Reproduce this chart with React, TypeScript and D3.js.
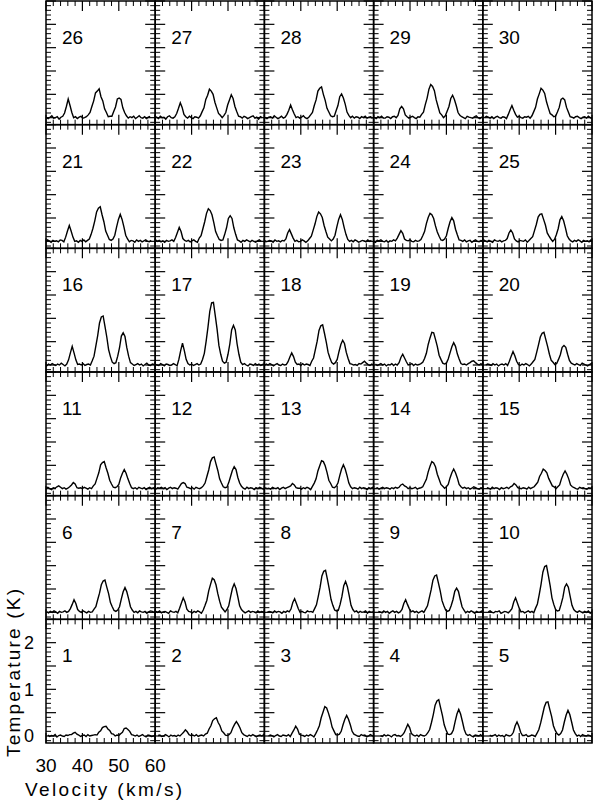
import React from 'react';
import * as d3 from 'd3';

// page / grid geometry
const width = 600;
const height = 802;
const gridLeft = 46;
const gridRight = 592;
const gridTop = 1;
const gridBottom = 743;
const nCols = 5;
const nRows = 6;

// velocity channels (km/s)
const channels = [
  30, 30.5, 31, 31.5, 32, 32.5, 33, 33.5, 34, 34.5, 35, 35.5, 36, 36.5, 37, 37.5,
  38, 38.5, 39, 39.5, 40, 40.5, 41, 41.5, 42, 42.5, 43, 43.5, 44, 44.5, 45, 45.5,
  46, 46.5, 47, 47.5, 48, 48.5, 49, 49.5, 50, 50.5, 51, 51.5, 52, 52.5, 53, 53.5,
  54, 54.5, 55, 55.5, 56, 56.5, 57, 57.5, 58, 58.5, 59, 59.5, 60,
];

// velocity offset of each panel's spectrum (km/s), panels 1..30
const velocityShift = [
  0.5, 0.8, 1.1, 1.9, 1.9,
  0.2, 0.2, 0.8, 1.3, 1.5,
  0.0, 0.2, 0.2, 0.5, 1.1,
  -0.3, 0.0, 0.0, 0.5, 0.8,
  -1.1, -0.9, -0.6, 0.0, 0.2,
  -1.4, -0.6, -0.3, 0.2, 0.5,
];

// spectra for panels 1..30, temperature in units of 0.01 K
const spectra: number[][] = [
  // 1
  [2,-1,1,0,3,-2,1,2,0,-1,2,1,3, 3,6,8,4,2,-1, 1,2,-1,3,0,1,2, 3,2,8,11,18,20,21,15,12,5,4,0,2, 1,5,8,16,17,14,10,3,2, 0,2,-1,1,3,0,-2,2,1,-1,0,2,1],
  // 2
  [1,2,-1,0,3,1,-2,2,0,1,-1,2,0, 4,8,13,9,3,1, 2,0,3,-1,1,2,0, 4,6,15,22,33,37,39,29,22,11,7,2,1, 3,7,17,25,31,25,17,7,3, 1,-1,2,0,3,1,-2,1,2,0,3,-1,1],
  // 3
  [0,2,1,-2,1,3,0,-1,2,1,0,3,-1, 6,13,21,15,4,2, 1,-1,2,0,3,1,-2, 5,13,22,39,51,63,60,49,36,19,11,3,2, 4,10,24,36,44,36,24,10,4, 2,0,-1,3,1,2,-2,0,3,1,-1,2,0],
  // 4
  [1,-1,3,0,2,1,-2,2,3,0,1,-1,2, 7,16,25,18,5,2, 0,2,-1,3,1,0,2, 7,14,29,46,66,75,78,61,44,24,13,4,3, 5,13,31,47,57,47,31,14,4, 1,3,0,-2,2,1,0,3,-1,1,2,0,2],
  // 5
  [2,0,1,3,-1,2,0,1,-2,3,1,0,2, 8,22,30,21,8,1, 1,3,-1,0,2,1,-1, 6,14,28,45,62,72,73,57,42,22,12,5,2, 5,13,30,45,55,46,30,13,5, 0,2,-1,3,1,0,2,1,-2,2,0,3,1],
  // 6
  [1,-1,2,0,3,1,-2,2,0,1,3,0,2, 8,17,27,19,6,2, 0,3,1,-1,2,0,1, 7,12,27,41,59,67,69,54,40,21,12,4,2, 5,12,29,44,53,44,29,12,5, 0,2,-1,3,1,0,2,-2,1,3,2,0,1],
  // 7
  [2,0,3,-1,1,2,0,-2,3,1,0,2,-1, 9,20,31,22,7,2, 1,-1,2,0,3,1,-2, 5,15,26,46,60,73,70,59,40,24,11,6,1, 6,14,33,51,61,51,33,14,6, 2,-1,1,3,0,2,1,-1,3,0,2,1,-2],
  // 8
  [0,2,1,-1,3,0,2,1,-2,2,0,3,1, 7,21,29,19,8,0, 2,0,-1,3,1,2,0, 8,16,34,54,78,88,90,71,51,28,15,5,3, 4,17,34,57,66,55,36,15,6, 1,3,-1,2,0,1,3,-2,2,0,1,2,-1],
  // 9
  [2,1,-1,3,0,2,-2,1,3,0,2,-1,1, 6,19,27,17,8,1, 3,0,2,-1,1,3,0, 7,14,31,48,69,78,80,63,46,25,14,5,2, 4,14,27,45,52,45,28,12,5, -1,2,0,3,1,-2,2,0,1,3,-1,2,0],
  // 10
  [1,3,0,-1,2,1,3,-2,0,2,1,-1,3, 8,22,31,20,9,1, 2,-1,1,3,0,2,-1, 9,18,38,60,86,98,100,79,57,31,17,6,3, 4,17,32,54,61,54,34,15,6, 2,0,3,1,-1,2,0,3,-2,1,2,0,1],
  // 11
  [1,3,0,-2,2,1,4,6,3,0,2,-1,1, 4,8,13,10,2,1, 2,0,3,1,-1,2,0, 6,10,22,34,51,56,58,45,33,18,10,3,2, 4,9,23,33,41,33,21,11,2, 0,2,-1,3,1,0,2,-2,1,3,0,2,-1],
  // 12
  [-1,2,1,3,0,2,-2,1,3,0,2,1,-1, 5,11,13,11,3,2, 0,2,-1,3,1,0,2, 6,12,26,40,58,66,68,53,39,21,12,4,2, 3,13,26,39,47,41,24,12,5, 1,-1,3,0,2,1,-2,2,0,3,1,-1,2],
  // 13
  [2,0,1,-1,3,1,0,2,-2,1,3,0,2, 4,6,11,8,2,1, 1,-1,2,0,3,1,-2, 5,12,21,38,49,60,58,49,35,18,11,3,2, 5,12,28,42,51,42,28,12,4, 0,2,1,-1,3,0,2,1,-2,2,0,3,1],
  // 14
  [0,2,-1,1,3,0,2,1,-1,2,0,3,1, 3,8,10,6,4,0, 2,0,1,3,-1,1,2, 4,12,20,36,48,58,55,47,31,20,9,5,1, 4,9,23,34,42,34,23,9,4, 1,3,0,2,-1,1,4,2,0,-1,2,1,0],
  // 15
  [2,1,-1,3,0,2,1,-2,2,0,1,3,0, 4,6,11,8,2,1, 0,2,1,-1,3,0,2, 4,9,14,26,33,42,39,34,22,14,6,4,0, 4,8,21,31,38,31,21,8,4, 2,0,-1,3,1,2,0,-1,2,1,3,0,1],
  // 16
  [1,-2,2,0,3,1,-1,2,0,4,1,-2,2, 11,26,40,26,11,1, 2,0,3,-1,1,2,0, 9,19,41,63,90,103,105,83,60,33,18,6,3, 5,19,37,62,69,61,37,19,5, 2,-1,1,3,0,2,-2,1,4,0,-1,2,1],
  // 17
  [2,0,-1,3,1,-2,2,1,-1,0,3,1,-2, 12,31,47,31,12,3, 0,2,-1,1,3,0,2, 12,25,51,81,115,133,134,106,77,42,23,8,4, 6,23,45,75,85,75,45,23,6, 1,3,0,-2,2,1,-1,3,0,2,-1,1,2],
  // 18
  [-1,2,0,3,1,-2,1,3,0,-1,2,0,1, 7,17,26,18,6,1, 2,-1,3,0,2,1,-1, 8,15,33,51,74,84,86,68,49,27,15,5,2, 5,12,29,44,53,46,27,14,3, 2,0,1,-1,3,2,5,8,4,1,-1,2,0],
  // 19
  [2,-1,1,3,0,2,-2,1,0,3,-1,2,0, 5,16,23,15,7,0, 1,3,-1,2,0,1,3, 6,14,25,44,58,70,69,55,40,21,12,4,2, 4,13,26,39,48,40,24,13,3, 1,2,0,3,5,8,9,5,2,0,3,-1,1],
  // 20
  [0,2,1,-1,3,0,2,-2,1,2,0,3,-1, 8,19,29,20,8,1, -1,2,0,3,1,-2,2, 7,12,27,43,60,68,70,55,40,23,10,6,1, 3,12,22,38,42,38,23,10,4, 2,0,3,1,-1,4,2,0,-2,1,3,0,2],
  // 21
  [2,0,-1,3,1,-2,2,0,1,-1,3,2,-1, 9,22,34,22,9,0, 1,-2,2,0,3,-1,2, 5,15,28,44,63,71,74,57,42,22,13,4,2, 5,13,31,47,58,47,31,13,5, -1,2,1,-2,3,0,2,-1,1,3,0,-1,2],
  // 22
  [-2,1,3,0,2,-1,1,-2,2,0,1,3,0, 8,19,30,21,6,2, 0,2,-1,1,3,0,-2, 7,12,27,42,60,70,66,57,40,21,12,4,2, 3,15,29,49,55,49,29,15,3, 1,-2,2,0,3,1,-1,2,0,-2,1,3,0],
  // 23
  [1,3,-1,0,2,1,-2,3,0,1,-1,2,1, 5,18,25,16,7,0, 2,-1,0,3,1,-2,1, 6,11,24,37,53,63,59,51,34,21,9,5,1, 5,13,31,47,57,47,30,15,4, 0,2,-1,3,1,-2,0,2,1,-1,3,0,2],
  // 24
  [0,-2,2,1,3,0,-1,2,-2,1,0,3,1, 7,15,23,17,5,2, 1,3,0,-1,2,0,1, 4,12,21,38,51,60,57,49,33,20,11,3,2, 5,12,28,42,51,44,26,14,3, 2,0,3,-1,1,2,-2,1,3,0,-1,2,1],
  // 25
  [3,1,-1,2,0,-2,3,1,0,2,-1,1,2, 6,18,24,18,5,1, -1,2,1,0,3,-2,2, 6,10,23,36,52,58,59,47,35,18,11,5,0, 4,14,27,46,53,44,29,12,5, 1,-1,2,0,3,1,-2,2,0,1,-1,3,0],
  // 26
  [2,-1,3,0,-2,1,4,-1,0,2,-3,1,3, 10,24,40,26,11,0, 2,-2,1,3,-1,0,2, 6,11,24,36,53,57,62,45,36,19,11,2,3, 3,13,23,40,42,39,21,11,4, -1,2,0,3,-2,1,4,0,-1,2,-2,1,3],
  // 27
  [-1,2,1,-2,3,0,1,-3,2,4,0,-1,2, 9,20,32,22,7,2, -1,3,0,-2,2,1,-1, 4,13,21,39,48,61,57,50,33,21,9,5,0, 5,11,27,38,49,41,24,13,3, 2,-1,3,1,-2,0,2,4,-1,1,-3,2,0],
  // 28
  [3,0,-2,1,2,-1,4,1,-2,0,3,-1,1, 7,16,27,17,8,0, 2,-1,1,4,0,-2,1, 6,11,26,38,57,63,66,50,37,20,12,4,2, 3,15,26,45,51,42,29,12,5, 0,3,-1,2,1,-2,2,0,3,-1,1,2,-2],
  // 29
  [1,-2,2,0,3,-1,-1,2,1,-2,2,3,0, 5,19,24,19,6,2, -1,1,3,0,-2,2,1, 7,12,28,42,61,71,67,58,38,24,10,6,0, 4,14,24,41,48,39,26,11,5, 2,0,-2,3,1,0,-1,2,4,0,-2,1,2],
  // 30
  [0,3,1,-1,2,-2,1,3,0,-1,2,1,-2, 7,17,26,16,7,1, 3,0,-1,2,1,3,-1, 4,13,22,40,51,63,59,52,34,21,9,6,2, 3,12,22,39,42,38,22,12,2, 1,-1,2,3,0,-2,1,2,-1,3,0,-2,1],
];

// axis tick labels (bottom-left panel only)
const xLabelTicks = [30, 40, 50, 60];
const yLabelTicks = [0, 1, 2];

const font = "'Liberation Sans', Arial, Helvetica, sans-serif";

const App = () => {
  const cellW = (gridRight - gridLeft) / nCols;
  const cellH = (gridBottom - gridTop) / nRows;

  const xMajor = d3.range(30, 61, 10);
  const xMinor = d3.range(30, 61, 2).filter((v) => v % 10 !== 0);
  const yMajor = d3.range(0, 2.51, 0.5);
  const yMinor = d3.range(-1, 26, 1).filter((v) => v % 5 !== 0).map((v) => v / 10);

  const panels = spectra.map((vals, i) => {
    const col = i % nCols;
    const row = nRows - 1 - Math.floor(i / nCols);
    const x0 = gridLeft + col * cellW;
    const y0 = gridTop + row * cellH;
    const x = d3.scaleLinear().domain([30, 60]).range([x0, x0 + cellW]);
    const y = d3.scaleLinear().domain([-0.15, 2.5]).range([y0 + cellH, y0]);
    const shift = velocityShift[i];
    const line = d3
      .line<number>()
      .x((_, j) => x(channels[j] + shift))
      .y((d) => y(d / 100));
    return { num: i + 1, x0, y0, x, y, path: line(vals) || '' };
  });

  const first = panels[0];

  return (
    <svg
      width={width}
      height={height}
      style={{ position: 'absolute', left: 0, top: 0, background: '#fff' }}
      fontFamily={font}
    >
      <rect x={0} y={0} width={width} height={height} fill="#fff" />
      <defs>
        {panels.map((p) => (
          <clipPath key={'c' + p.num} id={'clip' + p.num}>
            <rect x={p.x0} y={p.y0} width={cellW} height={cellH} />
          </clipPath>
        ))}
      </defs>
      {panels.map((p) => {
        const x1 = p.x0 + cellW;
        const y1 = p.y0 + cellH;
        return (
          <g key={p.num}>
            <path d={p.path} fill="none" stroke="#000" strokeWidth={1.4} clipPath={`url(#clip${p.num})`} />
            {/* x ticks, top and bottom */}
            {xMajor.map((v) => (
              <g key={'xM' + v}>
                <line x1={p.x(v)} x2={p.x(v)} y1={p.y0} y2={p.y0 + 10} stroke="#000" strokeWidth={1.2} />
                <line x1={p.x(v)} x2={p.x(v)} y1={y1} y2={y1 - 10} stroke="#000" strokeWidth={1.2} />
              </g>
            ))}
            {xMinor.map((v) => (
              <g key={'xm' + v}>
                <line x1={p.x(v)} x2={p.x(v)} y1={p.y0} y2={p.y0 + 5} stroke="#000" strokeWidth={1} />
                <line x1={p.x(v)} x2={p.x(v)} y1={y1} y2={y1 - 5} stroke="#000" strokeWidth={1} />
              </g>
            ))}
            {/* y ticks, left and right */}
            {yMajor.map((v) => (
              <g key={'yM' + v}>
                <line x1={p.x0} x2={p.x0 + 10} y1={p.y(v)} y2={p.y(v)} stroke="#000" strokeWidth={1.2} />
                <line x1={x1} x2={x1 - 10} y1={p.y(v)} y2={p.y(v)} stroke="#000" strokeWidth={1.2} />
              </g>
            ))}
            {yMinor.map((v) => (
              <g key={'ym' + v}>
                <line x1={p.x0} x2={p.x0 + 5} y1={p.y(v)} y2={p.y(v)} stroke="#000" strokeWidth={1} />
                <line x1={x1} x2={x1 - 5} y1={p.y(v)} y2={p.y(v)} stroke="#000" strokeWidth={1} />
              </g>
            ))}
            <rect x={p.x0} y={p.y0} width={cellW} height={cellH} fill="none" stroke="#000" strokeWidth={1.5} />
            <text x={p.x0 + 16} y={p.y0 + 43} fontSize={19} fill="#000">
              {p.num}
            </text>
          </g>
        );
      })}

      {/* axis labels on the bottom-left panel */}
      {yLabelTicks.map((v) => (
        <text key={'yl' + v} x={34} y={first.y(v)} dy="0.35em" textAnchor="end" fontSize={18} fill="#000">
          {v}
        </text>
      ))}
      {xLabelTicks.map((v) => (
        <text key={'xl' + v} x={first.x(v)} y={772} textAnchor="middle" fontSize={19} fill="#000">
          {v}
        </text>
      ))}
      <text x={25} y={796} fontSize={19} letterSpacing={2.4} fill="#000">
        Velocity (km/s)
      </text>
      <text transform="translate(20,757) rotate(-90)" fontSize={19} letterSpacing={2.2} fill="#000">
        Temperature (K)
      </text>
    </svg>
  );
};

export default App;
